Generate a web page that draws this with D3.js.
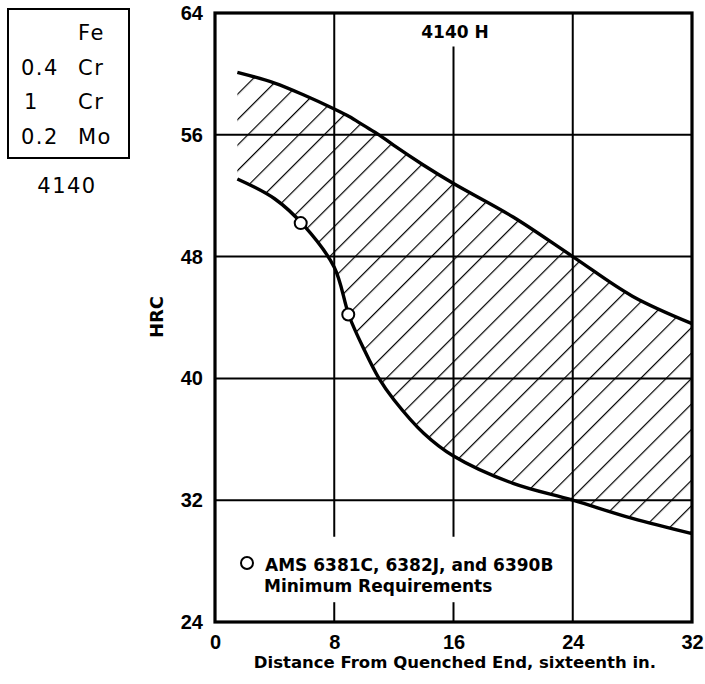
<!DOCTYPE html>
<html lang="en">
<head>
<meta charset="utf-8">
<title>4140 H hardenability band</title>
<script src="https://d3js.org/d3.v7.min.js"></script>
<style>
  body { margin: 0; background: #fff; }
  svg { display: block; }
  .box-text { font-family: "DejaVu Sans", sans-serif; font-size: 21px; letter-spacing: 1.5px; fill: #000; }
  .tick text { font-family: "Liberation Sans", Arial, sans-serif; font-size: 20px; font-weight: bold; fill: #000; }
  .bold { font-family: "DejaVu Sans", sans-serif; font-weight: bold; fill: #000; }
</style>
</head>
<body>
<svg width="705" height="684"></svg>
<script>
// Jominy distance, sixteenths of an inch
const distance = [1.5, 4, 6, 8, 9, 10, 11, 12, 14, 16, 20, 24, 28, 32];
// upper and lower limits of the band, HRC
const hrcMax = [60.1, 59.4, 58.6, 57.7, 57.2, 56.6, 56.0, 55.3, 54.0, 52.8, 50.6, 48.0, 45.4, 43.6];
const hrcMin = [53.1, 51.8, 50.0, 47.3, 44.1, 41.9, 40.0, 38.6, 36.4, 34.9, 33.1, 32.0, 30.8, 29.8];
// AMS minimum requirement points
const reqDistance = [5.75, 8.94];
const reqHrc = [50.2, 44.2];
const xTicks = [0, 8, 16, 24, 32];
const yTicks = [24, 32, 40, 48, 56, 64];
const composition = [["", "Fe"], ["0.4", "Cr"], ["1", "Cr"], ["0.2", "Mo"]];

const svg = d3.select("svg");

const x = d3.scaleLinear().domain([0, 32]).range([215, 692]);
const y = d3.scaleLinear().domain([24, 64]).range([622, 13]);

const band = distance.map((d, i) => ({ d: d, max: hrcMax[i], min: hrcMin[i] }));
const smooth = d3.curveCatmullRom.alpha(0.5);

// hatch pattern
svg.append("defs").append("pattern")
   .attr("id", "hatch")
   .attr("patternUnits", "userSpaceOnUse")
   .attr("width", 18)
   .attr("height", 18)
   .attr("patternTransform", "rotate(45)")
   .append("line")
   .attr("x1", 0).attr("y1", -2)
   .attr("x2", 0).attr("y2", 20)
   .attr("stroke", "#000")
   .attr("stroke-width", 2.4);

// grid lines
const grid = svg.append("g").attr("stroke", "#000").attr("stroke-width", 2);
[32, 40, 48, 56].forEach(v => {
  grid.append("line")
      .attr("x1", x(0)).attr("x2", x(32))
      .attr("y1", y(v)).attr("y2", y(v));
});
// vertical grid, with gaps for the title and legend
const vSegs = [
  [8, 64, 29.6], [8, 25.3, 24],
  [16, 61.8, 29.6], [16, 25.3, 24],
  [24, 64, 24]
];
vSegs.forEach(s => {
  grid.append("line")
      .attr("x1", x(s[0])).attr("x2", x(s[0]))
      .attr("y1", y(s[1])).attr("y2", y(s[2]));
});

// hatched band
const area = d3.area()
  .x(d => x(d.d))
  .y0(d => y(d.min))
  .y1(d => y(d.max))
  .curve(smooth);

svg.append("path")
   .datum(band)
   .attr("d", area)
   .attr("fill", "url(#hatch)");

// band edges
const lineMax = d3.line().x(d => x(d.d)).y(d => y(d.max)).curve(smooth);
const lineMin = d3.line().x(d => x(d.d)).y(d => y(d.min)).curve(smooth);

svg.append("path").datum(band).attr("d", lineMax)
   .attr("fill", "none").attr("stroke", "#000").attr("stroke-width", 3.4);
svg.append("path").datum(band).attr("d", lineMin)
   .attr("fill", "none").attr("stroke", "#000").attr("stroke-width", 3.4);

// frame
svg.append("rect")
   .attr("x", x(0)).attr("y", y(64))
   .attr("width", x(32) - x(0)).attr("height", y(24) - y(64))
   .attr("fill", "none").attr("stroke", "#000").attr("stroke-width", 3.2);

// minimum requirement points
svg.selectAll(".req")
   .data(reqDistance)
   .enter()
   .append("circle")
   .attr("class", "req")
   .attr("cx", d => x(d))
   .attr("cy", (d, i) => y(reqHrc[i]))
   .attr("r", 6)
   .attr("fill", "#fff")
   .attr("stroke", "#000")
   .attr("stroke-width", 2);

// axes
svg.append("g")
   .attr("transform", "translate(0," + y(24) + ")")
   .call(d3.axisBottom(x).tickValues(xTicks).tickSize(0).tickPadding(13))
   .call(g => g.select(".domain").remove());

svg.append("g")
   .attr("transform", "translate(" + x(0) + ",0)")
   .call(d3.axisLeft(y).tickValues(yTicks).tickSize(0).tickPadding(12))
   .call(g => g.select(".domain").remove());

// axis titles
svg.append("text")
   .attr("class", "bold")
   .attr("x", 455).attr("y", 668)
   .attr("text-anchor", "middle")
   .attr("font-size", 16.5)
   .text("Distance From Quenched End, sixteenth in.");

svg.append("text")
   .attr("class", "bold")
   .attr("transform", "translate(163,317) rotate(-90)")
   .attr("text-anchor", "middle")
   .attr("font-size", 18)
   .text("HRC");

// chart title
svg.append("text")
   .attr("class", "bold")
   .attr("x", 455).attr("y", 38)
   .attr("text-anchor", "middle")
   .attr("font-size", 17)
   .text("4140 H");

// legend
svg.append("circle")
   .attr("cx", 247).attr("cy", 563).attr("r", 6)
   .attr("fill", "#fff").attr("stroke", "#000").attr("stroke-width", 2);
svg.append("text")
   .attr("class", "bold")
   .attr("x", 265).attr("y", 571)
   .attr("font-size", 17)
   .text("AMS 6381C, 6382J, and 6390B");
svg.append("text")
   .attr("class", "bold")
   .attr("x", 264).attr("y", 592)
   .attr("font-size", 17)
   .text("Minimum Requirements");

// composition box
svg.append("rect")
   .attr("x", 8).attr("y", 9)
   .attr("width", 121).attr("height", 149)
   .attr("fill", "none").attr("stroke", "#000").attr("stroke-width", 2);

const rows = svg.append("g");
composition.forEach((r, i) => {
  const by = 40 + i * 34.5;
  rows.append("text").attr("class", "box-text")
      .attr("x", r[0] === "1" ? 24 : 21).attr("y", by).text(r[0]);
  rows.append("text").attr("class", "box-text")
      .attr("x", 78).attr("y", by).text(r[1]);
});

svg.append("text")
   .attr("class", "box-text")
   .attr("x", 67).attr("y", 193)
   .attr("text-anchor", "middle")
   .text("4140");
</script>
</body>
</html>
